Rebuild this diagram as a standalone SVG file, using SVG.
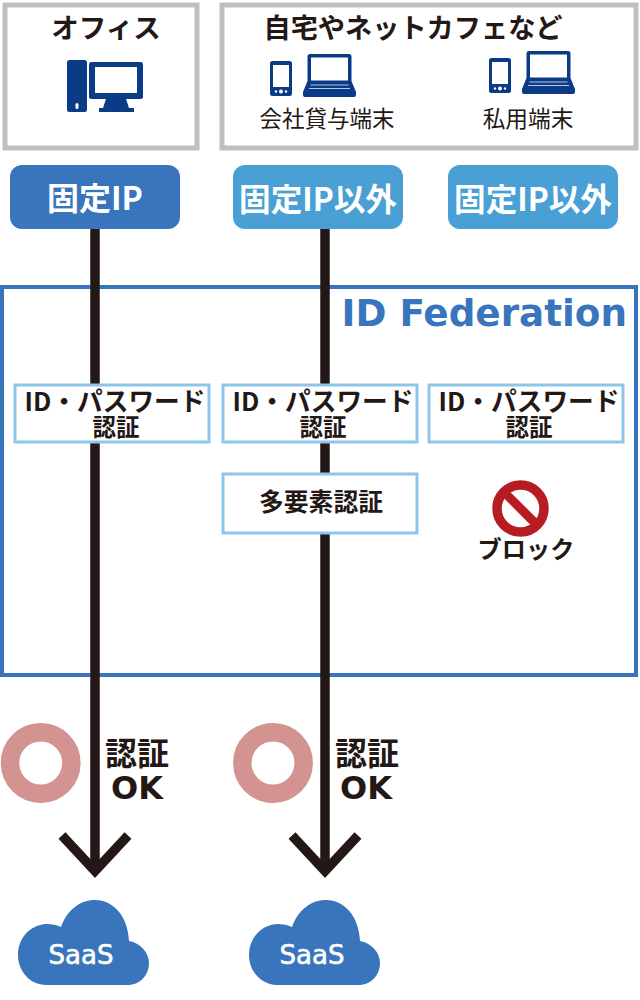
<svg xmlns="http://www.w3.org/2000/svg" width="640" height="1000" viewBox="0 0 640 1000">
<style>
text{font-family:"Noto Sans CJK JP","Noto Sans",sans-serif;text-anchor:middle;fill:#231815}
.b{font-weight:700}
.w{fill:#fff;font-weight:700}
.lat{font-family:"DejaVu Sans",sans-serif}
.ctx{fill:#fff;stroke:#bfbfbf;stroke-width:5}
.auth{fill:#fff;stroke:#8dc6ea;stroke-width:3}
.d{fill:#0b3a86}
.ln{fill:none;stroke:#231815;stroke-width:9.500}
.ring{fill:none;stroke:#d29391;stroke-width:18.500}
.cloud{fill:#3875bc}
</style>
<defs>
<g id="phone"><rect x="0" y="0" width="22" height="35" rx="2.500" class="d"/><rect x="3" y="4" width="16" height="22" fill="#fff"/><circle cx="11" cy="30.500" r="2" fill="#fff"/><circle cx="6" cy="30.500" r="1.200" fill="#fff"/><circle cx="16" cy="30.500" r="1.200" fill="#fff"/></g>
<g id="laptop"><path class="d" d="M7 0H46a2.500 2.500 0 0 1 2.500 2.500V27L53 38V41a2 2 0 0 1-2 2H2a2 2 0 0 1-2-2V38L4.500 27V2.500A2.500 2.500 0 0 1 7 0Z"/><rect x="8" y="3.500" width="37" height="23" fill="#fff"/><path d="M7.500 31H45.500M6 34.500H47" stroke="#b9c7df" stroke-width="1.200" fill="none"/></g>
<path id="cloudShape" class="cloud" d="M28 85C12 85 0 71 0 55C0 38 12 25 28 24C34 24 39 25 43 27C49 10 62 0 77 0C96 0 110 17 111 41C122 43 131 52 131 63C131 76 121 85 110 85Z"/>
</defs>

<g id="office">
<rect class="ctx" x="5" y="5" width="192" height="143"/>
<text class="b" x="106" y="38" font-size="27.500">オフィス</text>
<rect class="d" x="67" y="60" width="20" height="52" rx="2.500"/>
<rect x="75.500" y="103" width="3" height="6" rx="1.500" fill="#fff"/>
<rect class="d" x="89" y="62" width="54" height="37" rx="2.500"/>
<rect x="95" y="67" width="42" height="26" fill="#fff"/>
<path class="d" d="M106 99H126L129 108H103Z"/>
<rect class="d" x="99" y="108" width="35" height="4"/>
</g>

<g id="remote">
<rect class="ctx" x="222" y="5" width="414" height="143"/>
<text class="b" x="413" y="38" font-size="27.200">自宅やネットカフェなど</text>
<use href="#phone" x="270" y="61"/>
<use href="#laptop" x="303" y="54"/>
<text x="327" y="127" font-size="22.500">会社貸与端末</text>
<use href="#phone" x="489" y="58"/>
<use href="#laptop" x="522" y="51"/>
<text x="528" y="127" font-size="22.700">私用端末</text>
</g>

<g id="ip1"><rect x="10" y="165" width="170" height="64" rx="12" fill="#3875bc"/><text class="w" x="95" y="210" font-size="32">固定IP</text></g>
<g id="ip2"><rect x="233" y="165" width="170" height="64" rx="12" fill="#4a9fd4"/><text class="w" x="318" y="211" font-size="31.600">固定IP以外</text></g>
<g id="ip3"><rect x="448" y="165" width="170" height="64" rx="12" fill="#4a9fd4"/><text class="w" x="533" y="211" font-size="31.600">固定IP以外</text></g>

<g id="federation">
<rect x="2" y="287" width="634" height="388" fill="none" stroke="#3875bc" stroke-width="4"/>
<text class="lat" x="627" y="326" font-weight="700" font-size="37.300" style="text-anchor:end;fill:#3875bc">ID Federation</text>
</g>

<g id="connectors">
<line class="ln" x1="95" y1="229" x2="95" y2="870"/>
<line class="ln" x1="325" y1="229" x2="325" y2="870"/>
<path class="ln" d="M62 835.500L95 871L128 835.500"/>
<path class="ln" d="M292 835.500L325 871L358 835.500"/>
</g>

<g id="auth1"><rect class="auth" x="15" y="385" width="194" height="57"/><text class="b" x="115" y="411" font-size="25.700">ID・パスワード</text><text class="b" x="116" y="436" font-size="23.500">認証</text></g>
<g id="auth2"><rect class="auth" x="223" y="385" width="194" height="57"/><text class="b" x="323" y="411" font-size="25.700">ID・パスワード</text><text class="b" x="323" y="436" font-size="23.500">認証</text></g>
<g id="auth3"><rect class="auth" x="429" y="385" width="194" height="57"/><text class="b" x="529" y="411" font-size="25.700">ID・パスワード</text><text class="b" x="529" y="436" font-size="23.500">認証</text></g>
<g id="mfa"><rect class="auth" x="223" y="474" width="194" height="59"/><text class="b" x="321" y="511" font-size="24.800">多要素認証</text></g>

<g id="block">
<circle cx="520.500" cy="508.500" r="23.500" fill="#fff" stroke="#b71c23" stroke-width="9.500"/>
<line x1="504" y1="492" x2="537" y2="525" stroke="#b71c23" stroke-width="9"/>
<text class="b" x="526" y="558" font-size="24.200">ブロック</text>
</g>

<g id="ok1"><circle class="ring" cx="40.700" cy="763" r="30.700"/><text class="b" x="137" y="765" font-size="32">認証</text><text class="b lat" x="137" y="799" font-size="32">OK</text></g>
<g id="ok2"><circle class="ring" cx="273" cy="763" r="30.700"/><text class="b" x="367" y="765" font-size="32">認証</text><text class="b lat" x="366" y="799" font-size="32">OK</text></g>

<g id="saas1"><use href="#cloudShape" x="18" y="900"/><text class="lat" x="81" y="964" font-size="26" style="fill:#fff;stroke:#fff;stroke-width:.6">SaaS</text></g>
<g id="saas2"><use href="#cloudShape" x="249" y="900"/><text class="lat" x="312" y="964" font-size="26" style="fill:#fff;stroke:#fff;stroke-width:.6">SaaS</text></g>
</svg>
